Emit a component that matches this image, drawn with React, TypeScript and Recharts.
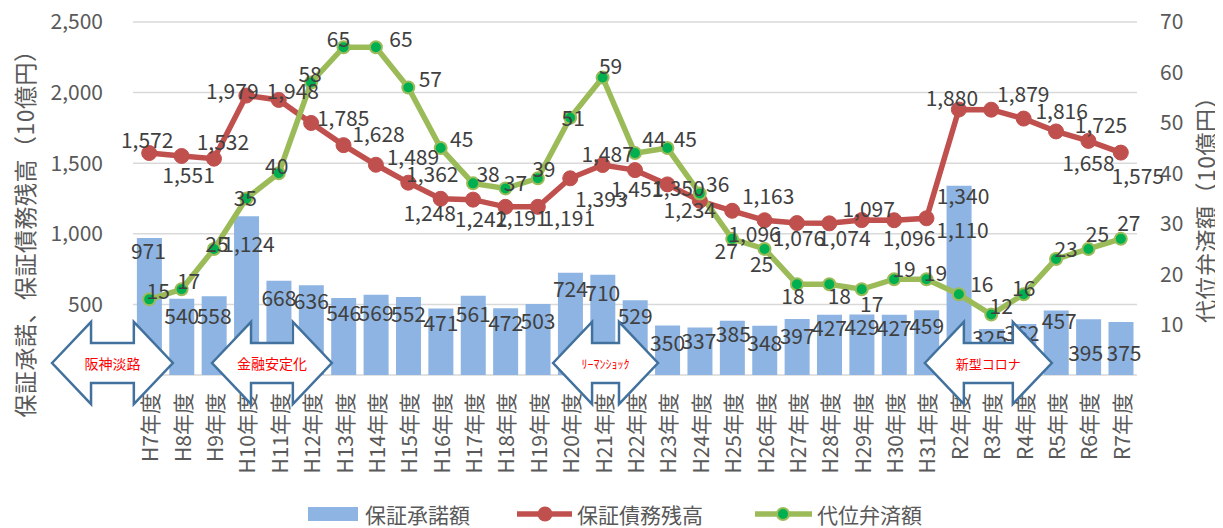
import React from "react";
import { ComposedChart, Bar, Line, XAxis, YAxis, CartesianGrid, LabelList } from "recharts";

const FONT = "'Noto Sans CJK JP', 'Noto Sans', sans-serif";

// 年度
const years = [
  "H7年度", "H8年度", "H9年度", "H10年度", "H11年度", "H12年度", "H13年度", "H14年度",
  "H15年度", "H16年度", "H17年度", "H18年度", "H19年度", "H20年度", "H21年度", "H22年度",
  "H23年度", "H24年度", "H25年度", "H26年度", "H27年度", "H28年度", "H29年度", "H30年度",
  "H31年度", "R2年度", "R3年度", "R4年度", "R5年度", "R6年度", "R7年度",
];

// 保証承諾額 (10億円)
const approvals = [
  971, 540, 558, 1124, 668, 636, 546, 569, 552, 471, 561, 472, 503, 724, 710, 529,
  350, 337, 385, 348, 397, 427, 429, 427, 459, 1340, 325, 362, 457, 395, 375,
];

// 保証債務残高 (10億円)
const debtBalance = [
  1572, 1551, 1532, 1979, 1948, 1785, 1628, 1489, 1362, 1248, 1242, 1191, 1191, 1393, 1487, 1451,
  1350, 1234, 1163, 1096, 1076, 1074, 1097, 1096, 1110, 1880, 1879, 1816, 1725, 1658, 1575,
];

// 代位弁済額 (10億円)
const subrogation = [
  15, 17, 25, 35, 40, 58, 65, 65, 57, 45, 38, 37, 39, 51, 59, 44,
  45, 36, 27, 25, 18, 18, 17, 19, 19, 16, 12, 16, 23, 25, 27,
];

const leftTicks = [0, 500, 1000, 1500, 2000, 2500];
const rightTicks = [0, 10, 20, 30, 40, 50, 60, 70];

// label nudges (dx, dy) so the labels sit where Excel put them
const barShift = [
  [-1, 12], [0, 16], [0, 19], [2, 27], [0, 16], [0, 15], [0, 14], [0, 17], [0, 16], [0, 14],
  [0, 17], [0, 14], [0, 16], [0, 15], [0, 17], [0, 15], [0, 16], [-1, 13], [1, 12], [0, 16],
  [0, 16], [0, 12], [0, 12], [0, 12], [0, 15], [4, 9], [-2, 8], [-2, 8], [3, 10], [-3, 33], [3, 30],
];
const debtShift = [
  [-2, -14], [7, 18], [9, -18], [-14, -6], [14, -10], [32, -6], [35, -12], [37, -9], [24, -10], [-11, 13],
  [8, 18], [16, 10], [31, 10], [31, 20], [5, -12], [2, 18], [11, 3], [-10, 8], [36, -16], [-10, 13],
  [2, 14], [15, 14], [7, -12], [15, 17], [36, 11], [-7, -13], [32, -17], [38, -9], [45, -7], [0, 21], [17, 22],
];
const subShift = [
  [9, -9], [7, -9], [3, -6], [-1, -2], [-2, -8], [-1, -10], [-5, -9], [25, -9], [22, -10], [21, -10],
  [15, -10], [10, -6], [6, -10], [3, -1], [8, -12], [19, -15], [18, -10], [18, -10], [-6, 11], [-3, 14],
  [-4, 11], [10, 11], [10, 14], [10, -11], [9, -7], [23, -11], [10, -9], [0, -7], [10, -11], [9, -16], [8, -17],
];

// event arrows: start / end in category units
const events = [
  { text: "阪神淡路", from: -3.0, to: 0.73, size: 14 },
  { text: "金融安定化", from: 1.94, to: 5.64, size: 14 },
  { text: "ﾘｰﾏﾝｼｮｯｸ", from: 12.47, to: 15.71, size: 12 },
  { text: "新型コロナ", from: 23.95, to: 27.87, size: 13 },
];

const W = 1223;
const H = 528;
const PLOT_LEFT = 133;
const RIGHT_W = 86;
const BAND = (W - PLOT_LEFT - RIGHT_W) / years.length;
const catX = (i: number) => PLOT_LEFT + (i + 0.5) * BAND;

const data = years.map((cat, i) => ({
  cat,
  approvals: approvals[i],
  debt: debtBalance[i],
  sub: subrogation[i],
}));

const fmt = (v: number) => v.toLocaleString("en-US");

const makeLabel = (shift: number[][]) => (p: any) => {
  const vb = p.viewBox || {};
  const x = p.x ?? vb.x;
  const y = p.y ?? vb.y;
  const w = p.width ?? vb.width ?? 0;
  const cx = x + w / 2;
  const i = Math.round((cx - PLOT_LEFT) / BAND - 0.5);
  const [dx, dy] = shift[i] || [0, 0];
  return (
    <text x={cx + dx} y={y + dy} textAnchor="middle" dominantBaseline="central"
      fontSize={21} fill="#404040" fontFamily={FONT}>
      {fmt(Number(p.value))}
    </text>
  );
};

const YearTick = ({ x, y, payload }: any) => (
  <text x={x} y={y} transform={`rotate(-90, ${x}, ${y})`} textAnchor="end"
    dominantBaseline="central" fontSize={21} fill="#595959" fontFamily={FONT}>
    {payload.value}
  </text>
);

const Arrow = ({ text, from, to, size }: any) => {
  const x0 = catX(from);
  const x1 = catX(to);
  const head = 39;
  const top = 322, bottom = 404, cy = 363, sTop = 343, sBot = 383;
  const pts = [
    [x0, cy], [x0 + head, top], [x0 + head, sTop], [x1 - head, sTop], [x1 - head, top],
    [x1, cy], [x1 - head, bottom], [x1 - head, sBot], [x0 + head, sBot], [x0 + head, bottom],
  ].map((p) => p.join(",")).join(" ");
  return (
    <g>
      <polygon points={pts} fill="#fff" stroke="#41719C" strokeWidth={2.5} strokeLinejoin="miter" />
      <text x={(x0 + x1) / 2} y={cy} textAnchor="middle" dominantBaseline="central"
        fontSize={size} fill="#FF0000" fontFamily={FONT}>{text}</text>
    </g>
  );
};

export default function App() {
  return (
    <div style={{ position: "relative", width: W, height: H, margin: "-8px 0 0 -8px", fontFamily: FONT, background: "#fff" }}>
      <ComposedChart width={W} height={H} data={data} margin={{ top: 22, right: 0, left: 0, bottom: 30 }}
        barCategoryGap="12%">
        <CartesianGrid yAxisId="left" vertical={false} stroke="#D9D9D9" strokeWidth={1.5} />
        <XAxis dataKey="cat" height={123} interval={0} tick={<YearTick />}
          tickLine={false} axisLine={false} tickSize={0} tickMargin={18} />
        <YAxis yAxisId="left" width={PLOT_LEFT} domain={[0, 2500]} ticks={leftTicks}
          tickFormatter={(v: number) => (v === 0 ? "" : fmt(v))} axisLine={false} tickLine={false}
          tickSize={0} tickMargin={30} tick={{ fontSize: 21, fill: "#595959", fontFamily: FONT }} />
        <YAxis yAxisId="right" orientation="right" width={RIGHT_W} domain={[0, 70]} ticks={rightTicks}
          tickFormatter={(v: number) => (v === 0 ? "" : String(v))} axisLine={false} tickLine={false}
          tickSize={0} tickMargin={23} tick={{ fontSize: 21, fill: "#595959", fontFamily: FONT }} />
        <Bar yAxisId="left" dataKey="approvals" fill="#8DB4E2" isAnimationActive={false}>
          <LabelList dataKey="approvals" content={makeLabel(barShift)} />
        </Bar>
        <Line yAxisId="left" dataKey="debt" stroke="#C0504D" strokeWidth={5.5}
          dot={{ r: 7.5, fill: "#C0504D", stroke: "#C0504D", strokeWidth: 1 }} activeDot={false}
          isAnimationActive={false}>
          <LabelList dataKey="debt" content={makeLabel(debtShift)} />
        </Line>
        <Line yAxisId="right" dataKey="sub" stroke="#9BBB59" strokeWidth={5.5}
          dot={{ r: 6, fill: "#00B050", stroke: "#9BBB59", strokeWidth: 2 }} activeDot={false}
          isAnimationActive={false}>
          <LabelList dataKey="sub" content={makeLabel(subShift)} />
        </Line>
      </ComposedChart>

      <svg width={W} height={H} style={{ position: "absolute", left: 0, top: 0, pointerEvents: "none" }}>
        {events.map((e) => <Arrow key={e.text} {...e} />)}

        <text x={24} y={228} transform="rotate(-90, 24, 228)" textAnchor="middle" dominantBaseline="central"
          fontSize={23} letterSpacing={0.5} fill="#595959" fontFamily={FONT}>保証承諾、保証債務残高（10億円）</text>
        <text x={1205} y={204} transform="rotate(-90, 1205, 204)" textAnchor="middle" dominantBaseline="central"
          fontSize={23} letterSpacing={0.5} fill="#595959" fontFamily={FONT}>代位弁済額（10億円）</text>

        {/* legend */}
        <rect x={308} y={507} width={50} height={14} fill="#8DB4E2" />
        <text x={365} y={514} dominantBaseline="central" fontSize={21} fill="#595959" fontFamily={FONT}>保証承諾額</text>
        <line x1={517} x2={572} y1={514} y2={514} stroke="#C0504D" strokeWidth={5.5} />
        <circle cx={545} cy={514} r={7.5} fill="#C0504D" />
        <text x={577} y={514} dominantBaseline="central" fontSize={21} fill="#595959" fontFamily={FONT}>保証債務残高</text>
        <line x1={755} x2={812} y1={514} y2={514} stroke="#9BBB59" strokeWidth={5.5} />
        <circle cx={783} cy={514} r={6} fill="#00B050" stroke="#9BBB59" strokeWidth={2} />
        <text x={817} y={514} dominantBaseline="central" fontSize={21} fill="#595959" fontFamily={FONT}>代位弁済額</text>
      </svg>
    </div>
  );
}
